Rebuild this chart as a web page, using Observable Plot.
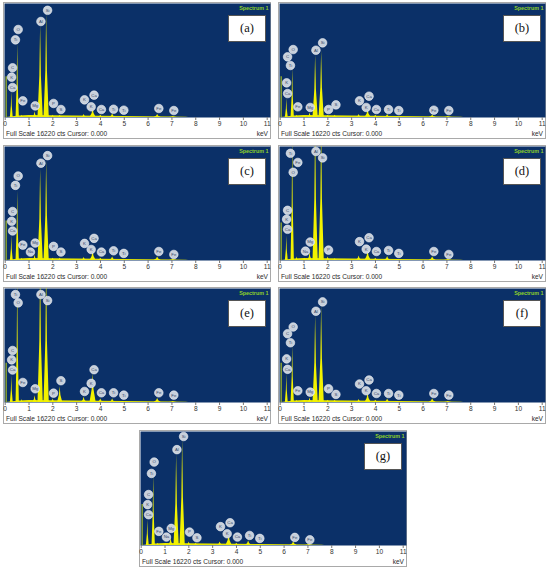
<!DOCTYPE html>
<html><head><meta charset="utf-8">
<script src="https://cdn.jsdelivr.net/npm/d3@7"></script>
<script src="https://cdn.jsdelivr.net/npm/@observablehq/plot@0.6"></script>
<style>
html,body{margin:0;padding:0;background:#fff}
body{width:550px;height:568px;position:relative;overflow:hidden;font-family:"Liberation Sans",Arial,sans-serif}
.panel{position:absolute;width:268px;height:137px;box-sizing:border-box;border:1px solid #a9a9a9;background:#fff}
.panel svg{position:absolute;left:0;top:0}
.foot{position:absolute;left:2px;bottom:0px;font-size:6.6px;color:#2a2a2a;line-height:8px;white-space:nowrap}
.kev{position:absolute;right:2px;bottom:0px;font-size:6.6px;color:#2a2a2a;line-height:8px}
.tag{position:absolute;left:224px;top:12px;width:38px;height:27px;box-sizing:border-box;border:1px solid #555;background:#fff;
font-family:"Liberation Serif","DejaVu Serif",serif;font-size:12.5px;color:#111;display:flex;align-items:center;justify-content:center}
</style></head><body>
<script>
// ---- data ----
const fullScale = 16220;
const xTicks = [0,1,2,3,4,5,6,7,8,9,10,11];
const panelIds = ["a","b","c","d","e","f","g"];

// X-ray lines drawn as peaks (keV) and their half widths at base (keV)
const lineNames   = ["C","O","Fe L","Na","Mg","Al","Si","P","S","K","Ca","Ca Kb","Ti","Ti Kb","Fe","Fe Kb"];
const lineKeV     = [0.277,0.525,0.705,1.041,1.254,1.487,1.740,2.013,2.307,3.313,3.690,4.012,4.510,4.931,6.400,7.058];
const lineHalfW   = [0.06,0.07,0.07,0.08,0.09,0.11,0.11,0.10,0.11,0.12,0.13,0.13,0.13,0.14,0.15,0.16];

// peak heights (cts) per panel, same order as lineNames
const peaksA = [3650,10620,320,160,810,13140,14790,320,320,410,1300,320,490,160,410,160];
const peaksB = [2710,6970,320,160,650,8870,9410,320,320,410,1140,320,410,160,320,160];
const peaksC = [3490,9890,320,320,730,12980,14180,320,320,410,1300,320,490,160,490,160];
const peaksD = [3490,17840,490,320,1140,19460,19460,490,240,650,1380,320,570,160,490,160];
const peaksE = [3810,17840,410,160,970,19460,19460,490,2240,730,4060,490,490,160,570,160];
const peaksF = [4060,8110,320,320,650,12410,13840,320,320,410,1300,320,490,160,490,160];
const peaksG = [3630,10150,320,320,1140,12980,15170,490,320,490,1620,320,650,160,490,160];

// zero-energy (noise) peak height per panel
const zeroPeakKeV = 0.04;
const zeroPeakCts = [5790,5790,5630,5350,5580,5580,5840];

// bremsstrahlung continuum (shared)
const contKeV = [0.05,0.6,1.0,2.0,3.0,4.0,5.0,6.0,7.0,7.6,7.7];
const contCts = [0,220,280,260,210,170,140,110,80,40,0];

// element marker labels (symbol, keV) and their levels (cts) per panel
const labelSymbols = ["C","K","Ca","O","Ti","Fe","Na","Mg","Al","Si","P","S","K","K","Ca","Ca","Ti","Ti","Fe","Fe"];
const labelKeV     = [0.31,0.27,0.31,0.545,0.43,0.74,1.06,1.26,1.50,1.78,2.03,2.34,3.33,3.61,3.73,4.04,4.55,4.98,6.45,7.08];
const labelsA = [7070,5740,4270,12520,11050,2370,null,1650,13660,15250,2000,1140,2510,1520,3180,1140,1180,1040,1280,990];
const labelsB = [8630,4930,3410,9670,7400,1520,null,1430,9570,10620,1140,1800,2370,1430,3030,1140,1140,990,1040,990];
const labelsC = [6970,5580,4200,12020,10690,2190,1200,2480,13840,14920,2010,1200,2430,1570,3150,1200,1380,1010,1280,860];
const labelsD = [7140,5870,4440,12550,15250,13950,1330,2630,15510,14600,1480,null,2680,1620,3240,1280,1430,1010,1280,860];
const labelsE = [7400,6070,4620,14180,15360,2850,null,1950,15360,14500,1330,3100,1570,2720,4670,1380,1380,1050,1380,1050];
const labelsF = [9780,6200,4720,10740,8500,1670,null,1480,12980,14310,1950,1150,2630,1670,3200,1280,1280,1050,1280,1050];
const labelsG = [7250,5820,4380,11870,10250,2010,1200,2430,13640,15510,1910,1100,2680,1670,3240,1200,1430,1010,1150,810];

const footText = "Full Scale 16220 cts Cursor: 0.000";
const unitText = "keV";
const spectrumName = "Spectrum 1";

// ---- layout ----
const allPeaks = [peaksA,peaksB,peaksC,peaksD,peaksE,peaksF,peaksG];
const allLabels = [labelsA,labelsB,labelsC,labelsD,labelsE,labelsF,labelsG];
const pos = [[3,2],[278,2],[3,144.5],[278,144.5],[3,287],[278,287],[139,429.5]];

const contPts = contKeV.map((x,i)=>({x, y:contCts[i]}));

panelIds.forEach((id, p) => {
  const peaks = allPeaks[p], labels = allLabels[p];
  const peakPts = [];
  lineKeV.forEach((e,i) => {
    const h = peaks[i], w = lineHalfW[i];
    // spike profile: wide foot, narrow body, sharp tip
    peakPts.push({x:e-w,y:0,z:i},{x:e-w*0.3,y:h*0.45,z:i},{x:e,y:h,z:i},{x:e+w*0.3,y:h*0.45,z:i},{x:e+w,y:0,z:i});
  });
  const labelPts = labelSymbols.map((s,i)=>({s, x:labelKeV[i], y:labels[i]})).filter(d=>d.y!=null);

  const svg = Plot.plot({
    width:266, height:135,
    marginTop:0, marginLeft:0, marginRight:0, marginBottom:21,
    style:{background:"transparent", fontFamily:"Liberation Sans, Arial, sans-serif", fontSize:"6.6px", color:"#333", overflow:"visible"},
    x:{domain:[0,11], insetLeft:0.7, insetRight:3.3},
    y:{domain:[0,fullScale], axis:null},
    marks:[
      Plot.frame({fill:"#0b3068"}),
      Plot.axisX({ticks:xTicks, tickFormat:d=>String(d), tickSize:3, tickPadding:1, label:null, stroke:"#777", fill:"#333"}),
      Plot.areaY(contPts, {x:"x", y:"y", fill:"#e6e600"}),
      Plot.ruleX([zeroPeakCts[p]], {x:zeroPeakKeV, y1:0, y2:d=>d, stroke:"#b4c81e", strokeWidth:1.1, clip:true}),
      Plot.areaY(peakPts, {x:"x", y:"y", z:"z", fill:"#f2f200", clip:true, curve:"linear"}),
      Plot.dot(labelPts, {x:"x", y:"y", r:4.3, fill:"#c8d0db", stroke:"#eef2f7", strokeWidth:0.6, clip:true}),
      Plot.text(labelPts, {x:"x", y:"y", text:"s", fontSize:4.3, fill:"#34466a", clip:true}),
      Plot.text([spectrumName], {frameAnchor:"top-right", dx:-2, dy:2.5, fill:"#8fcf2a", fontSize:5.4, fontWeight:"bold"})
    ]
  });

  const div = document.createElement("div");
  div.className = "panel";
  div.style.left = pos[p][0] + "px";
  div.style.top = pos[p][1] + "px";
  div.appendChild(svg);
  const foot = document.createElement("div"); foot.className = "foot"; foot.textContent = footText; div.appendChild(foot);
  const kev = document.createElement("div"); kev.className = "kev"; kev.textContent = unitText; div.appendChild(kev);
  const tag = document.createElement("div"); tag.className = "tag"; tag.textContent = "(" + id + ")"; div.appendChild(tag);
  document.body.appendChild(div);
});
</script>
</body></html>
